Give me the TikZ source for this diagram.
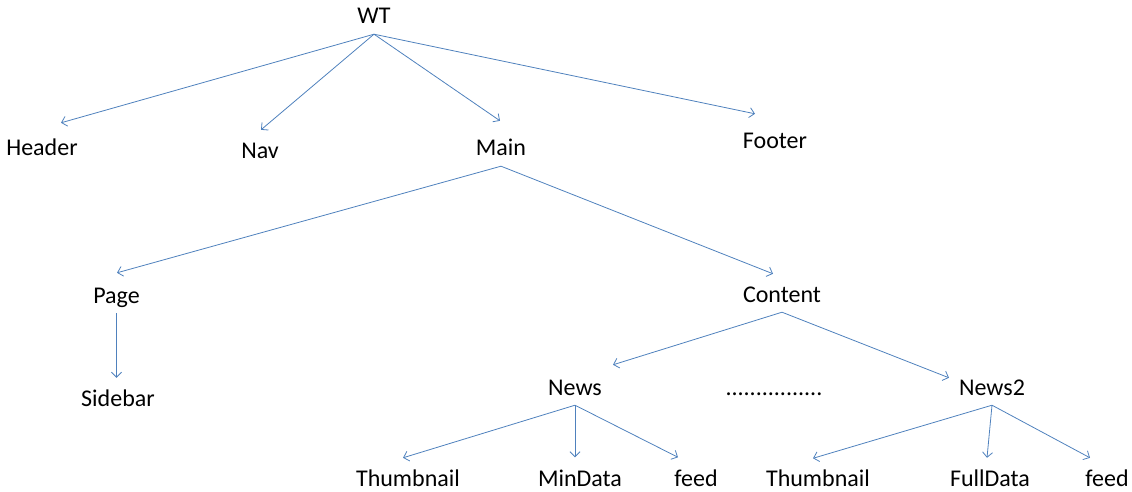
\documentclass[tikz,border=0pt]{standalone}
\usepackage{fontspec}
\setmainfont{Carlito}
\usetikzlibrary{arrows.meta}
\definecolor{linkblue}{RGB}{79,129,189}

\begin{document}
\begin{tikzpicture}[x=1pt,y=-1pt,
    lbl/.style={font=\fontsize{24}{28}\selectfont, text height=15.5pt, text depth=0pt,
                inner xsep=2pt, inner ysep=10pt, anchor=base},
    link/.style={draw=linkblue, line width=0.8pt, -{Straight Barb[length=5pt,width=10pt]}}]
        \useasboundingbox (0,0) rectangle (1132,492);

        % top level
        \node[lbl] (wt) at (374,24) {WT};
        \node[lbl] (header) at (42,155) {Header};
        \node[lbl] (nav) at (260,158) {Nav};
        \node[lbl] (main) at (501,156) {Main};
        \node[lbl] (footer) at (775,148) {Footer};

        % main
        \node[lbl] (page) at (116.5,303) {Page};
        \node[lbl] (sidebar) at (118,406) {Sidebar};
        \node[lbl] (content) at (782,302) {Content};

        % content
        \node[lbl] (news) at (575,395) {News};
        \node[lbl] (dots) at (774,395) {................};
        \node[lbl] (newstwo) at (992,395) {News2};

        \node[lbl] (thumba) at (408,486) {Thumbnail};
        \node[lbl] (mindata) at (580,486) {MinData};
        \node[lbl] (feeda) at (696,486) {feed};
        \node[lbl] (thumbb) at (818,486) {Thumbnail};
        \node[lbl] (fulldata) at (990,486) {FullData};
        \node[lbl] (feedb) at (1107,486) {feed};

        \draw[link] (wt.south) -- ([shift={(19,-6.5)}]header.north);
        \draw[link] (wt.south) -- ([shift={(1,-2.5)}]nav.north);
        \draw[link] (wt.south) -- ([shift={(-1,-9.5)}]main.north);
        \draw[link] (wt.south) -- ([shift={(-20,-8.5)}]footer.north);

        \draw[link] (main.south) -- ([shift={(0.5,-4.5)}]page.north);
        \draw[link] (main.south) -- ([shift={(-9,-2.5)}]content.north);
        \draw[link] (page.south) -- ([yshift=2.5pt]page.south |- sidebar.north);

        \draw[link] (content.south) -- ([shift={(38,-4.5)}]news.north);
        \draw[link] (content.south) -- ([shift={(-43,8.5)}]newstwo.north);

        \draw[link] (news.south) -- ([shift={(-5,-2.5)}]thumba.north);
        \draw[link] (news.south) -- ([yshift=3pt]news.south |- mindata.north);
        \draw[link] (news.south) -- ([shift={(-18,-3)}]feeda.north);

        \draw[link] (newstwo.south) -- ([shift={(-5,-2)}]thumbb.north);
        \draw[link] (newstwo.south) -- ([shift={(-3,-2.5)}]fulldata.north);
        \draw[link] (newstwo.south) -- ([shift={(-17,-2.5)}]feedb.north);
\end{tikzpicture}
\end{document}
